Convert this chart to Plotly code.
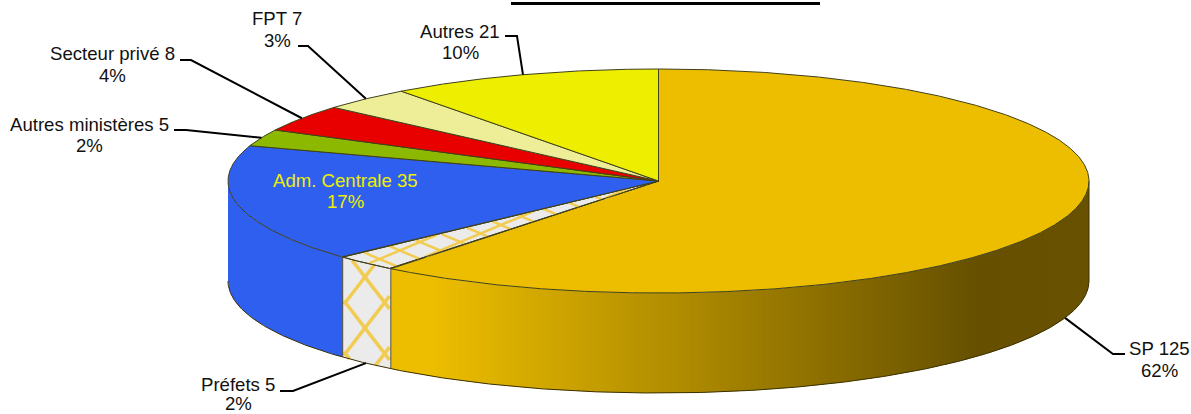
import numpy as np
import plotly.graph_objects as go

# ---- data, clockwise from 12 o'clock
names = ["SP", "Préfets", "Adm. Centrale", "Autres ministères", "Secteur privé", "FPT", "Autres"]
values = [125, 5, 35, 5, 8, 7, 21]
percents = [62, 2, 17, 2, 4, 3, 10]
colors = ["#EDBE00", "#EBEBEB", "#2E5FEF", "#8CB800", "#E80000", "#EEEE99", "#EEEE00"]

# ---- drawing geometry, in axis units (= pixels of the page)
CX, CY, RX, RY, DEPTH = 658.5, 181.0, 430.5, 112.0, 100.0
EDGE = "#3a3000"
HATCH = "#F2CC50"
FONT = "Liberation Sans, Arial, sans-serif"
# leader: elbow x,y and text-end x
leaders = {
    "SP": (1113, 354, 1125), "Préfets": (293, 391, 280), "Autres ministères": (186, 130, 174),
    "Secteur privé": (191, 60, 180), "FPT": (308, 46, 298), "Autres": (517, 36, 505),
}
# label centre x, then the y of its two lines
label_pos = {
    "SP": (1159, 348, 370), "Préfets": (238, 384, 403), "Adm. Centrale": (345, 180, 201),
    "Autres ministères": (89, 124, 145), "Secteur privé": (112, 53, 75), "FPT": (277, 18, 40),
    "Autres": (460, 31, 52),
}

total = sum(values)
edges = np.cumsum([0] + values) / total * 2 * np.pi
fig = go.Figure()


def ex(t):
    return CX + RX * np.sin(t)


def ey(t):
    return CY - RY * np.cos(t)


def poly(x, y, fill, line=None, width=0):
    fig.add_trace(go.Scatter(
        x=x, y=y, mode="lines", fill="toself", fillcolor=fill,
        line=dict(color=line or fill, width=width), hoverinfo="skip", showlegend=False))


def side(a, b, fill, line=None, width=0):
    t = np.linspace(a, b, max(2, int(abs(b - a) * 120)))
    x = np.concatenate([ex(t), ex(t[::-1])])
    y = np.concatenate([ey(t), ey(t[::-1]) + DEPTH])
    poly(list(x) + [x[0]], list(y) + [y[0]], fill, line, width)


def grad(x):
    xs = [0, 430, 977, 1200]
    r = np.interp(x, xs, [237, 237, 102, 107])
    g = np.interp(x, xs, [190, 190, 80, 82])
    return f"rgb({r:.0f},{g:.0f},0)"


def hatch(inside, slope, period, x0, y0, width):
    hx, hy = [], []
    for sgn in (1, -1):
        for k in range(-40, 41):
            xs = np.arange(200.0, 800.0, 0.5)
            ys = y0 + k * period + sgn * slope * (xs - x0)
            keep = inside(xs, ys)
            for i, xv in enumerate(xs):
                if keep[i]:
                    hx.append(xv)
                    hy.append(ys[i])
                elif hx and hx[-1] is not None:
                    hx.append(None)
                    hy.append(None)
            if hx and hx[-1] is not None:
                hx.append(None)
                hy.append(None)
    fig.add_trace(go.Scatter(x=hx, y=hy, mode="lines", line=dict(color=HATCH, width=width),
                             hoverinfo="skip", showlegend=False))


# ---- front wall: SP carries a left-to-right shading, one thin band per step
a_sp_end = edges[1]
x_left = ex(a_sp_end)
band_x = np.arange(x_left, CX + RX, 3.0)
for xa in band_x:
    xb = min(xa + 4.0, CX + RX)
    ta = np.pi - np.arcsin(np.clip((xa - CX) / RX, -1, 1))
    tb = np.pi - np.arcsin(np.clip((xb - CX) / RX, -1, 1))
    side(tb, ta, grad(xa + 1.5))

# Préfets wall with lattice
side(edges[1], edges[2], colors[1])
t1, t2 = edges[1], edges[2]


def in_wall(xs, ys):
    inx = (xs > ex(t2) + 1) & (xs < ex(t1) - 1)
    u = np.clip((xs - CX) / RX, -1, 1)
    ytop = CY + RY * np.sqrt(1 - u * u)
    return inx & (ys > ytop) & (ys < ytop + DEPTH)


hatch(in_wall, 1.3, 51.0, 365, 277, 3.5)

# Adm. Centrale wall, down to the left extreme of the disc
side(edges[2], 1.5 * np.pi, colors[2])

# wall outlines
t_front = np.linspace(np.pi / 2, 1.5 * np.pi, 500)
fig.add_trace(go.Scatter(x=ex(t_front), y=ey(t_front) + DEPTH, mode="lines",
                         line=dict(color=EDGE, width=1), hoverinfo="skip", showlegend=False))
for t in (edges[1], edges[2]):
    fig.add_trace(go.Scatter(x=[ex(t), ex(t)], y=[ey(t), ey(t) + DEPTH], mode="lines",
                             line=dict(color="#555033", width=1), hoverinfo="skip", showlegend=False))
fig.add_trace(go.Scatter(x=[CX + RX, CX + RX], y=[CY, CY + DEPTH], mode="lines",
                         line=dict(color=EDGE, width=1), hoverinfo="skip", showlegend=False))

# ---- top face, one wedge per value
for i, col in enumerate(colors):
    a, b = edges[i], edges[i + 1]
    t = np.linspace(a, b, max(2, int((b - a) * 300)))
    x = [CX] + list(ex(t)) + [CX]
    y = [CY] + list(ey(t)) + [CY]
    poly(x, y, col, "#40401a", 1)
    if names[i] == "Préfets":
        def in_wedge(xs, ys):
            u, v = (xs - CX) / RX, (CY - ys) / RY
            ang = np.mod(np.arctan2(u, v), 2 * np.pi)
            return (u * u + v * v < 0.995) & (ang > a + 0.004) & (ang < b - 0.004)
        hatch(in_wedge, 0.42, 17.0, 420, 225, 2.5)
        fig.add_trace(go.Scatter(x=x, y=y, mode="lines", line=dict(color="#40401a", width=1),
                                 hoverinfo="skip", showlegend=False))

# ---- leaders and labels
annotations = []
for i, name in enumerate(names):
    mid = (edges[i] + edges[i + 1]) / 2
    if name in leaders:
        ax = ex(mid)
        ay = ey(mid) + (DEPTH if np.cos(mid) < 0 else 0)
        ex_, ey_, tx = leaders[name]
        fig.add_trace(go.Scatter(x=[ax, ex_, tx], y=[ay, ey_, ey_], mode="lines",
                                 line=dict(color="black", width=2), hoverinfo="skip", showlegend=False))
    lx, ly1, ly2 = label_pos[name]
    col = "#EEEE00" if name == "Adm. Centrale" else "#111111"
    for txt, ly in ((f"{name} {values[i]}", ly1), (f"{percents[i]}%", ly2)):
        annotations.append(dict(x=lx, y=ly, xref="x", yref="y", showarrow=False, align="center",
                                text=txt, font=dict(family=FONT, size=18.6, color=col)))

fig.update_layout(
    width=1191, height=414, margin=dict(l=0, r=0, t=0, b=0),
    paper_bgcolor="white", plot_bgcolor="white", showlegend=False,
    xaxis=dict(range=[0, 1191], visible=False, fixedrange=True),
    yaxis=dict(range=[414, 0], visible=False, fixedrange=True),
    annotations=annotations,
    shapes=[dict(type="line", xref="x", yref="y", x0=511, x1=820, y0=3.5, y1=3.5,
                 line=dict(color="black", width=3))],
)
fig.write_html("out.html", config={"displayModeBar": False},
               post_script="document.body.style.margin='0';document.body.style.overflow='hidden';")
